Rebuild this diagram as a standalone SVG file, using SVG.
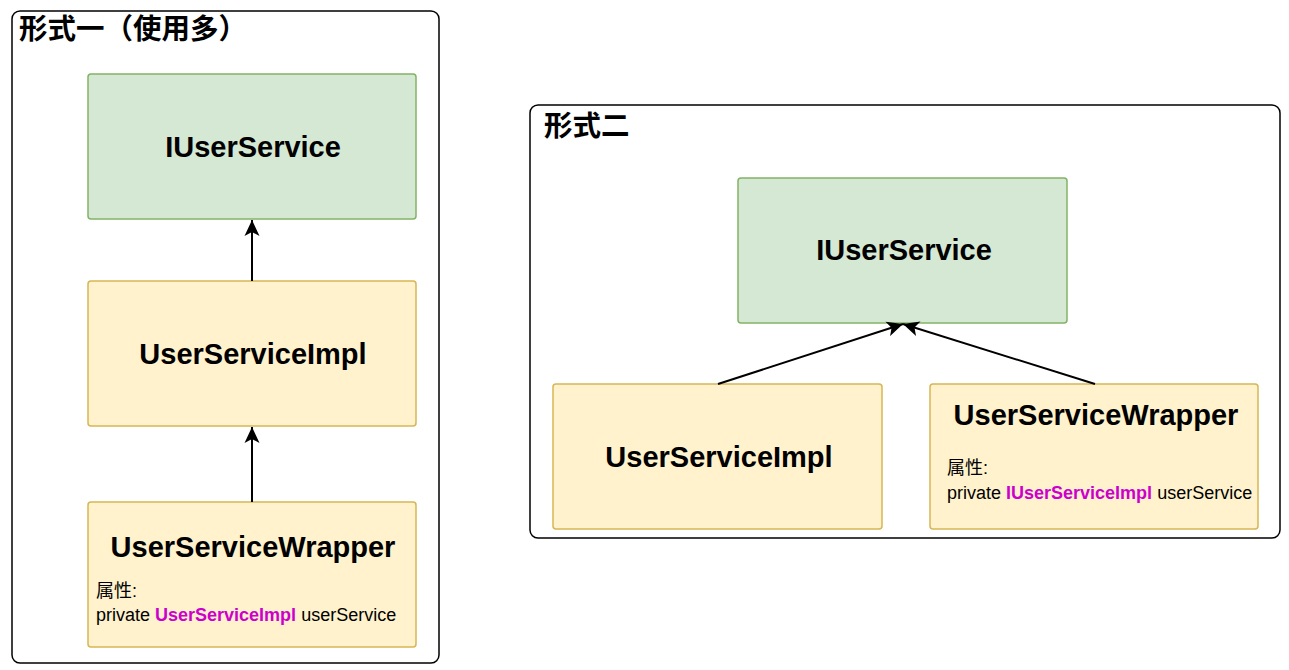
<svg xmlns="http://www.w3.org/2000/svg" width="1289" height="670" viewBox="0 0 1289 670">
<style>
.container{fill:#ffffff;stroke:#000000;stroke-width:1.5}
.green{fill:#d5e8d4;stroke:#82b366;stroke-width:1.5}
.yellow{fill:#fff2cc;stroke:#d6b656;stroke-width:1.5}
.title{font-family:"Liberation Sans","Noto Sans CJK SC",sans-serif;font-weight:bold;font-size:28.5px;fill:#000}
.label{font-family:"Liberation Sans","Noto Sans CJK SC",sans-serif;font-weight:bold;font-size:29px;fill:#000;text-anchor:middle}
.small{font-family:"Liberation Sans","Noto Sans CJK SC",sans-serif;font-size:18px;fill:#000}
.hl{font-weight:bold;fill:#cc00cc}
.edge{stroke:#000;stroke-width:2;fill:none;marker-end:url(#arrow)}
</style>
<defs>
<marker id="arrow" markerUnits="userSpaceOnUse" viewBox="-16 -8 17 16" refX="0" refY="0" markerWidth="17" markerHeight="16" orient="auto">
<path d="M0,0 L-16,-7.5 L-12,0 L-16,7.5 Z" fill="#000"/>
</marker>
</defs>
<g id="container1">
<rect class="container" x="12" y="11" width="427" height="652" rx="8"/>
<text class="title" x="19" y="39">形式一（使用多）</text>
</g>
<g id="container2">
<rect class="container" x="530" y="105" width="750" height="433" rx="8"/>
<text class="title" x="544" y="136">形式二</text>
</g>
<g id="left-iuserservice">
<rect class="green" x="88" y="74" width="328" height="145" rx="3"/>
<text class="label" x="253" y="157">IUserService</text>
</g>
<g id="left-userserviceimpl">
<rect class="yellow" x="88" y="281" width="328" height="145" rx="3"/>
<text class="label" x="253" y="364">UserServiceImpl</text>
</g>
<g id="left-userservicewrapper">
<rect class="yellow" x="88" y="502" width="328" height="145" rx="3"/>
<text class="label" x="253" y="557">UserServiceWrapper</text>
<text class="small" x="96" y="597">属性:</text>
<text class="small" x="96" y="621">private <tspan class="hl">UserServiceImpl</tspan> userService</text>
</g>
<g id="right-iuserservice">
<rect class="green" x="738" y="178" width="329" height="145" rx="3"/>
<text class="label" x="904" y="260">IUserService</text>
</g>
<g id="right-userserviceimpl">
<rect class="yellow" x="553" y="384" width="329" height="145" rx="3"/>
<text class="label" x="719" y="467">UserServiceImpl</text>
</g>
<g id="right-userservicewrapper">
<rect class="yellow" x="930" y="384" width="328" height="145" rx="3"/>
<text class="label" x="1096" y="425">UserServiceWrapper</text>
<text class="small" x="947" y="474">属性:</text>
<text class="small" x="947" y="499">private <tspan class="hl">IUserServiceImpl</tspan> userService</text>
</g>
<g id="connectors">
<path class="edge" d="M252,281 L252,220"/>
<path class="edge" d="M252,502 L252,427"/>
<path class="edge" d="M718,384 L903,324"/>
<path class="edge" d="M1095,384 L903,324"/>
</g>
</svg>
